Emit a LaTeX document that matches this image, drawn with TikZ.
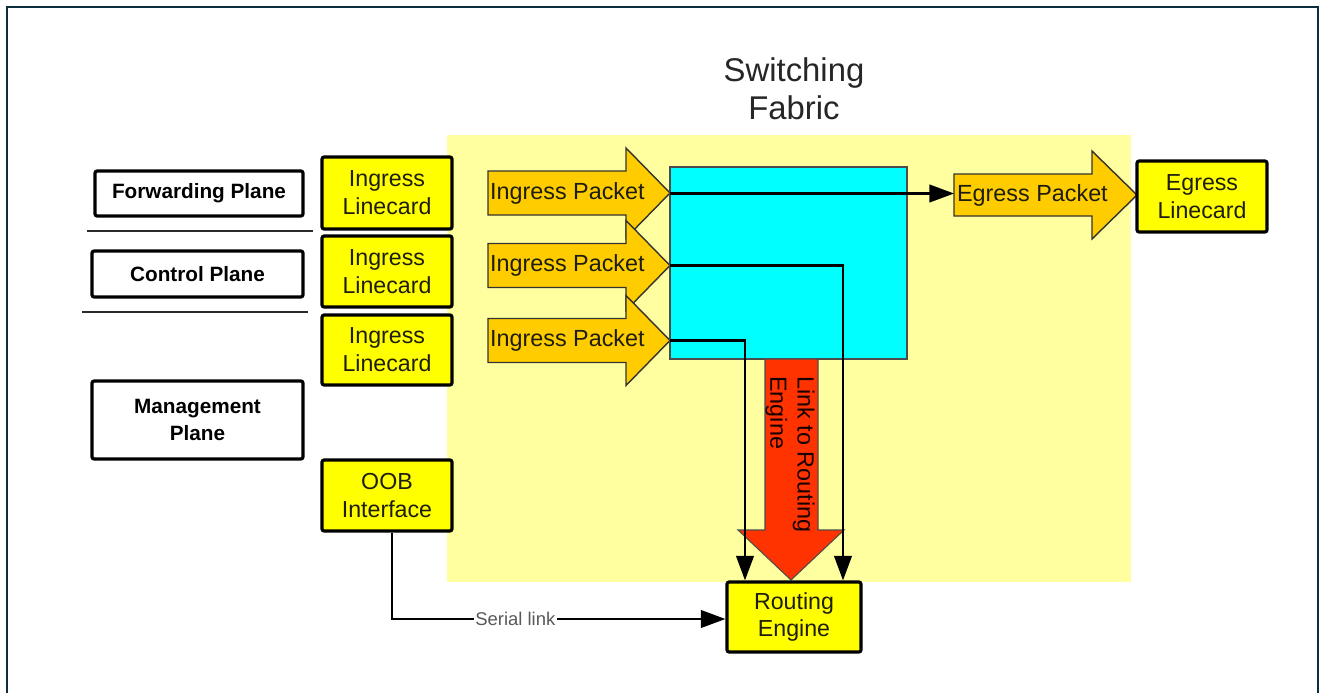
\documentclass[tikz,border=0pt]{standalone}
\usepackage{fontspec}
\setmainfont{Liberation Sans}
\usetikzlibrary{arrows.meta,calc}
\newdimen\pxu \pxu=0.02cm
\definecolor{frameC}{HTML}{0B2D3D}
\definecolor{fabricBg}{HTML}{FFFFA0}
\definecolor{boxY}{HTML}{FFFF00}
\definecolor{pktO}{HTML}{FFCC00}
\definecolor{cyanF}{HTML}{00FFFF}
\definecolor{redA}{HTML}{FF3300}
\definecolor{txt}{HTML}{1E1E10}
\definecolor{sepC}{HTML}{2A2A2A}
\newcommand\rarrow[6]{% left x, mid y, head base x, tip x, body half, head half
  \draw[pkt] (#1,#2-#5) -- (#3,#2-#5) -- (#3,#2-#6) -- (#4,#2) -- (#3,#2+#6) -- (#3,#2+#5) -- (#1,#2+#5) -- cycle;}
\begin{document}
\begin{tikzpicture}[x=0.02cm,y=-0.02cm,
  lbox/.style={draw=black, line width=1.8pt, rounded corners=1.2pt, fill=white, text=black,
    font=\fontsize{11.8pt}{15pt}\selectfont\bfseries, align=center, inner sep=0pt},
  ybox/.style={draw=black, line width=1.8pt, rounded corners=1.2pt, fill=boxY, text=txt,
    font=\fontsize{13.2pt}{15.9pt}\selectfont, align=center, inner sep=0pt},
  pkt/.style={draw=black!80, line width=0.8pt, fill=pktO},
  ptxt/.style={text=txt, font=\fontsize{13.3pt}{16pt}\selectfont, inner sep=1pt},
  conn/.style={draw=black, line width=1.35pt, -{Triangle[length=14pt,width=10pt]}},
  sepline/.style={draw=sepC, line width=1.2pt}
]
\useasboundingbox (0,0) rectangle (1323,693);
\fill[white] (0,0) rectangle (1323,693);
% frame
\draw[frameC, line width=1.1pt] (7,693) -- (7,7) -- (1318,7) -- (1318,693);
% switching fabric background
\fill[fabricBg] (447,135) rectangle (1131,582);
\node[text=black!85, font=\fontsize{18.7pt}{21.5pt}\selectfont, align=center] (title) at (794,89) {Switching\\Fabric};

% planes
\node[lbox, minimum width=208\pxu, minimum height=45\pxu] (fwd) at (199,193.5) {Forwarding Plane};
\node[lbox, minimum width=211\pxu, minimum height=46\pxu] (ctl) at (197.5,274) {Control Plane};
\node[lbox, minimum width=211\pxu, minimum height=78\pxu] (mgmt) at (197.5,420) {Management\\Plane};
\draw[sepline] (87,231) -- (313,231);
\draw[sepline] (82,312) -- (308,312);

% linecards
\node[ybox, minimum width=130\pxu, minimum height=72\pxu] (lc1) at (387,193) {Ingress\\Linecard};
\node[ybox, minimum width=130\pxu, minimum height=71\pxu] (lc2) at (387,271.5) {Ingress\\Linecard};
\node[ybox, minimum width=130\pxu, minimum height=70\pxu] (lc3) at (387,350) {Ingress\\Linecard};
\node[ybox, minimum width=130\pxu, minimum height=71\pxu] (oob) at (387,495.5) {OOB\\Interface};

% ingress packets
\rarrow{488}{193}{626}{670}{22}{45}
\rarrow{488}{265.5}{626}{670}{22}{45}
\rarrow{488}{340.5}{626}{670}{22}{45}
\node[ptxt, anchor=west] (in1) at (488,193) {Ingress Packet};
\node[ptxt, anchor=west] (in2) at (488,265.5) {Ingress Packet};
\node[ptxt, anchor=west] (in3) at (488,340.5) {Ingress Packet};
\coordinate (in1tip) at (670,193.5);
\coordinate (in2tip) at (670,265.5);
\coordinate (in3tip) at (670,340.5);

% fabric core
\node[draw=black!70, line width=0.7pt, fill=cyanF, minimum width=237\pxu, minimum height=192\pxu, inner sep=0pt] (fabric) at (788.5,263) {};

% link to routing engine (red arrow)
\draw[draw=black!70, line width=0.6pt, fill=redA] (765,359) -- (818,359) -- (818,530) -- (844,530) -- (791,580) -- (738,530) -- (765,530) -- cycle;
\node[rotate=-90, anchor=west, align=left, text=black!90!red, font=\fontsize{13.3pt}{15.5pt}\selectfont, inner sep=0pt] (linktxt) at (790,376) {Link to Routing\\Engine};

% egress
\rarrow{954}{195}{1092}{1137}{21}{44}
\node[ptxt, anchor=west] (eg) at (955,195) {Egress Packet};
\coordinate (egtail) at (954,193.5);
\node[ybox, minimum width=130\pxu, minimum height=71\pxu] (elc) at (1202,196.5) {Egress\\Linecard};

% routing engine
\node[ybox, minimum width=134\pxu, minimum height=70\pxu] (rt) at (794,617) {Routing\\Engine};

% connectors
\draw[conn] (in1tip) -- (egtail);
\draw[conn] (in2tip) -| ([xshift=49\pxu]rt.north);
\draw[conn] (in3tip) -| ([xshift=-49\pxu]rt.north);
\draw[conn] ([xshift=5\pxu]oob.south) |- ([yshift=-2\pxu]rt.west)
  node[pos=0.685, fill=white, text=black!65, font=\fontsize{10.5pt}{12pt}\selectfont, inner sep=1pt] (serial) {Serial link};
\end{tikzpicture}
\end{document}
